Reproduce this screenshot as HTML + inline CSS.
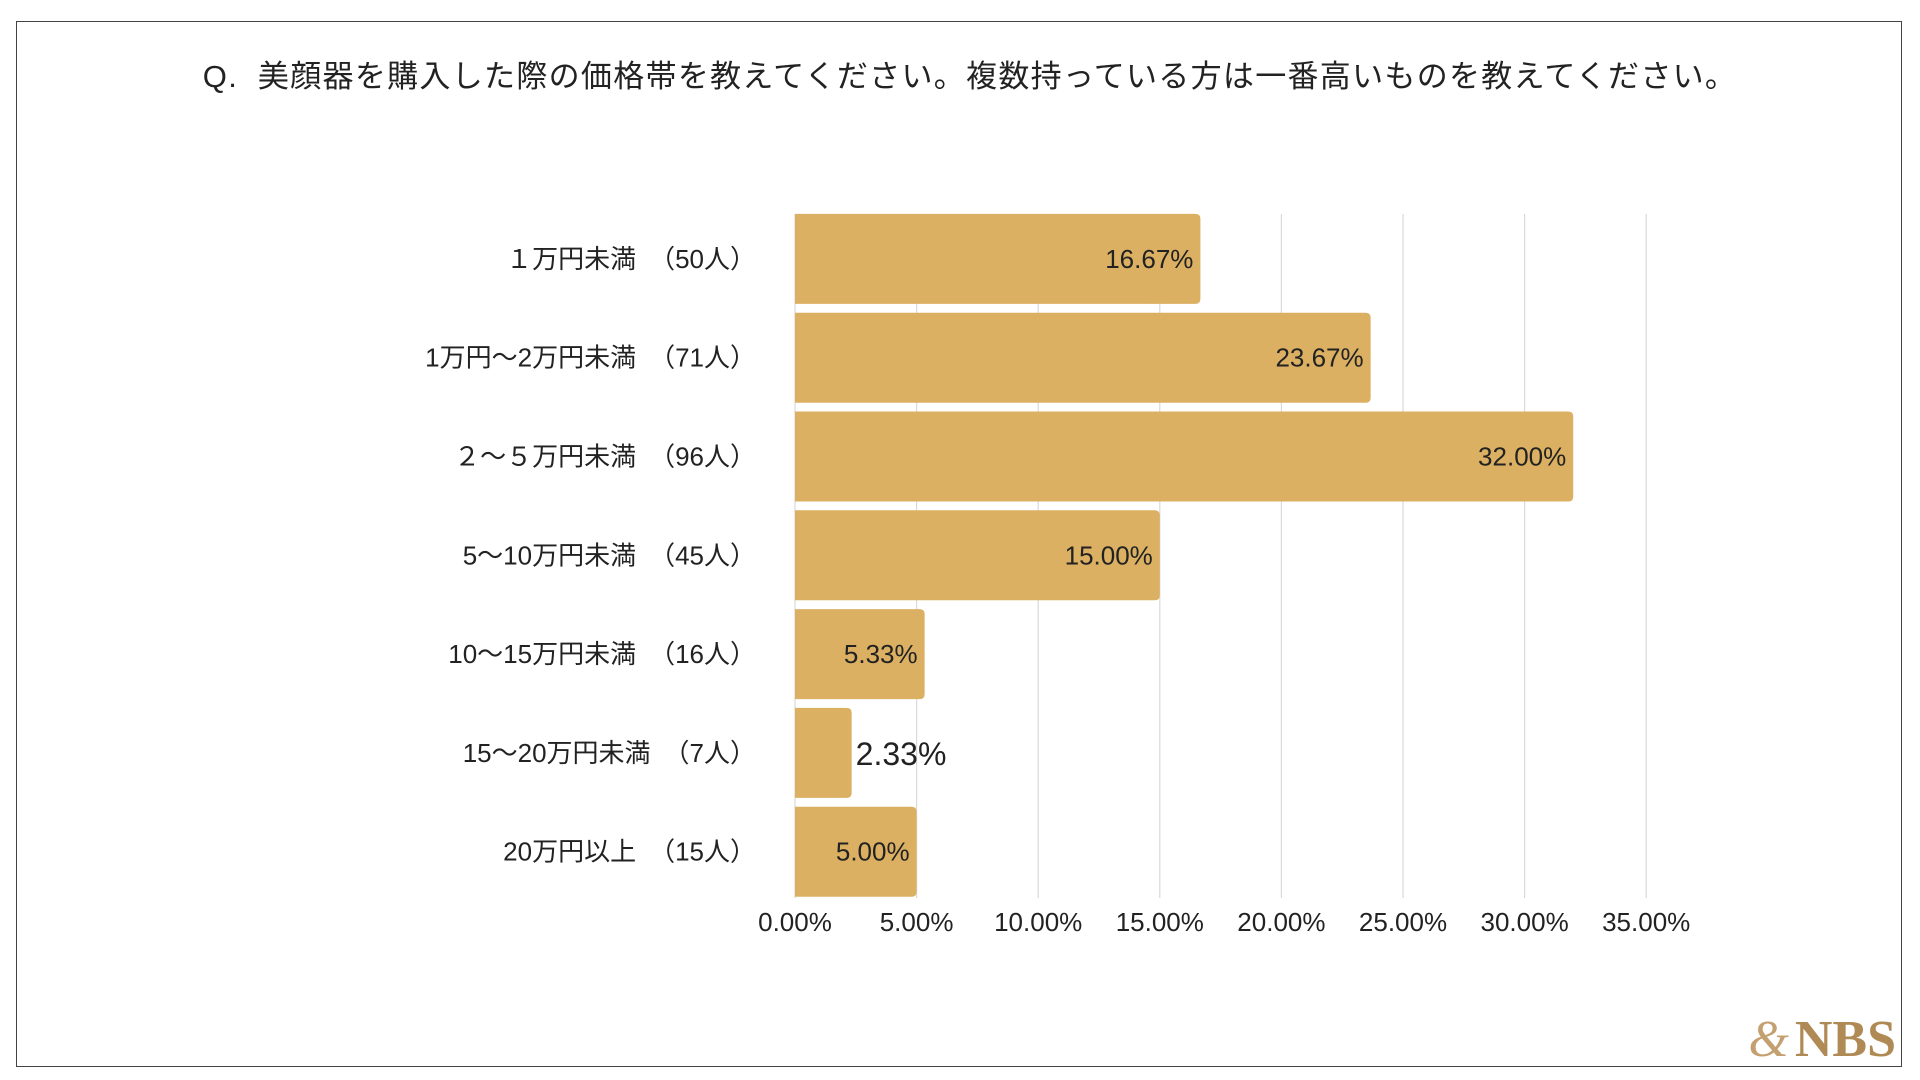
<!DOCTYPE html>
<html><head><meta charset="utf-8"><style>
html,body{margin:0;padding:0;background:#fff;}
body{width:1920px;height:1080px;position:relative;overflow:hidden;font-family:"Liberation Sans","Noto Sans CJK JP",sans-serif;}
#frame{position:absolute;left:16px;top:21px;width:1886px;height:1046px;border:1.5px solid #444;box-sizing:border-box;}
#title{position:absolute;left:0;width:1940px;top:51px;text-align:center;font-size:31px;letter-spacing:1.3px;color:#222;}
#logo{position:absolute;right:24px;top:1010px;font-family:"Liberation Serif",serif;font-weight:bold;font-size:52px;color:#b08a55;white-space:nowrap;}
#logo span{font-style:italic;font-weight:normal;font-size:52px;margin-right:6px;color:#c4a070;}
</style></head><body>
<div id="frame"></div>
<div id="title">Q.&nbsp; 美顔器を購入した際の価格帯を教えてください。複数持っている方は一番高いものを教えてください。</div>
<div id="logo"><span>&amp;</span>NBS</div>
<svg id="chart" width="1920" height="1080" style="position:absolute;left:0;top:0"></svg>
<script>
const categories=["１万円未満　（50人）","1万円～2万円未満　（71人）","２～５万円未満　（96人）","5～10万円未満　（45人）","10～15万円未満　（16人）","15～20万円未満　（7人）","20万円以上　（15人）"];
const values=[16.67,23.67,32.00,15.00,5.33,2.33,5.00];
const valueLabels=["16.67%","23.67%","32.00%","15.00%","5.33%","2.33%","5.00%"];
const ticks=[0,5,10,15,20,25,30,35];
const tickLabels=["0.00%","5.00%","10.00%","15.00%","20.00%","25.00%","30.00%","35.00%"];
const NS="http://www.w3.org/2000/svg";
const svg=document.getElementById('chart');
const x0=795,xPer=24.32,yTop=209.5,band=98.8,barH=90;
const xs=v=>x0+v*xPer;
const yb=i=>yTop+i*band;
function mk(t,a){const e=document.createElementNS(NS,t);for(const k in a)e.setAttribute(k,a[k]);svg.appendChild(e);return e;}
ticks.forEach((t,i)=>{
  const g=mk('line',{x1:xs(t),x2:xs(t),y1:214,y2:898,stroke:'#d9d9d9','stroke-width':1.2});
  
  
  const l=mk('text',{x:xs(t),y:931,'text-anchor':'middle','font-size':26,fill:'#222'});
  l.textContent=tickLabels[i];
  
  
});
categories.forEach((c,i)=>{
  const y=yb(i)+(band-barH)/2;
  const w=xs(values[i])-x0;
  const b=mk('path',{d:`M${x0},${y}H${x0+w-5}Q${x0+w},${y} ${x0+w},${y+5}V${y+barH-5}Q${x0+w},${y+barH} ${x0+w-5},${y+barH}H${x0}Z`,fill:'#dbb062'});
  
  
  const cl=mk('text',{x:756,y:y+barH/2+9,'text-anchor':'end','font-size':26,fill:'#222'});
  cl.textContent=c;
  
  
  let vl;
  if(w>60){vl=mk('text',{x:x0+w-7,y:y+barH/2+9,'text-anchor':'end','font-size':26,fill:'#222'});}
  else{vl=mk('text',{x:x0+w+4,y:y+barH/2+12,'text-anchor':'start','font-size':32,fill:'#222'});}
  vl.textContent=valueLabels[i];
  
  
});
</script>
</body></html>
